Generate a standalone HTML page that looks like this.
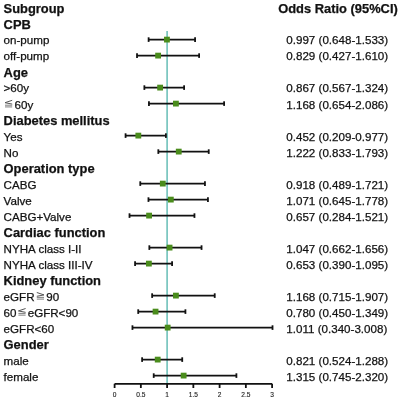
<!DOCTYPE html><html><head><meta charset="utf-8"><style>html,body{margin:0;padding:0;background:#fff;width:400px;height:400px;overflow:hidden}svg{display:block;will-change:transform}text{font-family:"Liberation Sans",sans-serif;stroke:#111;stroke-width:0.25px;paint-order:stroke}</style></head><body>
<svg width="400" height="400" viewBox="0 0 400 400">
<rect width="400" height="400" fill="#fff"/>
<line x1="167.1" y1="31" x2="167.1" y2="383.8" stroke="#66bdb6" stroke-width="1.5"/>
<text x="3.6" y="12.7" font-size="12.9" font-weight="bold" fill="#111">Subgroup</text>
<text x="3.6" y="28.72" font-size="12.9" font-weight="bold" fill="#111">CPB</text>
<text x="3.6" y="44.43" font-size="11.6" fill="#111">on-pump</text>
<line x1="148.62" y1="39.6" x2="195.08" y2="39.6" stroke="#111" stroke-width="1.8"/>
<line x1="148.62" y1="37.3" x2="148.62" y2="41.9" stroke="#111" stroke-width="1.8"/>
<line x1="195.08" y1="37.3" x2="195.08" y2="41.9" stroke="#111" stroke-width="1.8"/>
<rect x="164.04" y="36.7" width="5.8" height="5.8" fill="#4a8c1c"/>
<text x="286.3" y="44.43" font-size="11.6" fill="#111">0.997 (0.648-1.533)</text>
<text x="3.6" y="60.45" font-size="11.6" fill="#111">off-pump</text>
<line x1="137.02" y1="55.6" x2="199.12" y2="55.6" stroke="#111" stroke-width="1.8"/>
<line x1="137.02" y1="53.3" x2="137.02" y2="57.9" stroke="#111" stroke-width="1.8"/>
<line x1="199.12" y1="53.3" x2="199.12" y2="57.9" stroke="#111" stroke-width="1.8"/>
<rect x="155.22" y="52.7" width="5.8" height="5.8" fill="#4a8c1c"/>
<text x="286.3" y="60.45" font-size="11.6" fill="#111">0.829 (0.427-1.610)</text>
<text x="3.6" y="76.77" font-size="12.9" font-weight="bold" fill="#111">Age</text>
<text x="3.6" y="92.49" font-size="11.6" fill="#111">&gt;60y</text>
<line x1="144.37" y1="87.6" x2="184.11" y2="87.6" stroke="#111" stroke-width="1.8"/>
<line x1="144.37" y1="85.3" x2="144.37" y2="89.9" stroke="#111" stroke-width="1.8"/>
<line x1="184.11" y1="85.3" x2="184.11" y2="89.9" stroke="#111" stroke-width="1.8"/>
<rect x="157.22" y="84.7" width="5.8" height="5.8" fill="#4a8c1c"/>
<text x="286.3" y="92.49" font-size="11.6" fill="#111">0.867 (0.567-1.324)</text>
<polyline points="12.20,100.30 5.00,102.70 12.20,104.10" fill="none" stroke="#555" stroke-width="1.0"/><line x1="5.00" y1="105.20" x2="12.20" y2="105.20" stroke="#8a8a8a" stroke-width="1.1"/><line x1="5.00" y1="106.90" x2="12.20" y2="106.90" stroke="#8a8a8a" stroke-width="1.1"/>
<text x="14.6" y="108.5" font-size="11.6" fill="#111">60y</text>
<line x1="148.94" y1="103.6" x2="224.11" y2="103.6" stroke="#111" stroke-width="1.8"/>
<line x1="148.94" y1="101.3" x2="148.94" y2="105.9" stroke="#111" stroke-width="1.8"/>
<line x1="224.11" y1="101.3" x2="224.11" y2="105.9" stroke="#111" stroke-width="1.8"/>
<rect x="173.02" y="100.7" width="5.8" height="5.8" fill="#4a8c1c"/>
<text x="286.3" y="108.5" font-size="11.6" fill="#111">1.168 (0.654-2.086)</text>
<text x="3.6" y="124.82" font-size="12.9" font-weight="bold" fill="#111">Diabetes mellitus</text>
<text x="3.6" y="140.54" font-size="11.6" fill="#111">Yes</text>
<line x1="125.57" y1="135.6" x2="165.89" y2="135.6" stroke="#111" stroke-width="1.8"/>
<line x1="125.57" y1="133.3" x2="125.57" y2="137.9" stroke="#111" stroke-width="1.8"/>
<line x1="165.89" y1="133.3" x2="165.89" y2="137.9" stroke="#111" stroke-width="1.8"/>
<rect x="135.43" y="132.7" width="5.8" height="5.8" fill="#4a8c1c"/>
<text x="286.3" y="140.54" font-size="11.6" fill="#111">0.452 (0.209-0.977)</text>
<text x="3.6" y="156.56" font-size="11.6" fill="#111">No</text>
<line x1="158.33" y1="151.6" x2="208.73" y2="151.6" stroke="#111" stroke-width="1.8"/>
<line x1="158.33" y1="149.3" x2="158.33" y2="153.9" stroke="#111" stroke-width="1.8"/>
<line x1="208.73" y1="149.3" x2="208.73" y2="153.9" stroke="#111" stroke-width="1.8"/>
<rect x="175.85" y="148.7" width="5.8" height="5.8" fill="#4a8c1c"/>
<text x="286.3" y="156.56" font-size="11.6" fill="#111">1.222 (0.833-1.793)</text>
<text x="3.6" y="172.87" font-size="12.9" font-weight="bold" fill="#111">Operation type</text>
<text x="3.6" y="188.59" font-size="11.6" fill="#111">CABG</text>
<line x1="140.27" y1="183.6" x2="204.95" y2="183.6" stroke="#111" stroke-width="1.8"/>
<line x1="140.27" y1="181.3" x2="140.27" y2="185.9" stroke="#111" stroke-width="1.8"/>
<line x1="204.95" y1="181.3" x2="204.95" y2="185.9" stroke="#111" stroke-width="1.8"/>
<rect x="159.89" y="180.7" width="5.8" height="5.8" fill="#4a8c1c"/>
<text x="286.3" y="188.59" font-size="11.6" fill="#111">0.918 (0.489-1.721)</text>
<text x="3.6" y="204.61" font-size="11.6" fill="#111">Valve</text>
<line x1="148.46" y1="199.6" x2="207.94" y2="199.6" stroke="#111" stroke-width="1.8"/>
<line x1="148.46" y1="197.3" x2="148.46" y2="201.9" stroke="#111" stroke-width="1.8"/>
<line x1="207.94" y1="197.3" x2="207.94" y2="201.9" stroke="#111" stroke-width="1.8"/>
<rect x="167.93" y="196.7" width="5.8" height="5.8" fill="#4a8c1c"/>
<text x="286.3" y="204.61" font-size="11.6" fill="#111">1.071 (0.645-1.778)</text>
<text x="3.6" y="220.63" font-size="11.6" fill="#111">CABG+Valve</text>
<line x1="129.51" y1="215.6" x2="194.45" y2="215.6" stroke="#111" stroke-width="1.8"/>
<line x1="129.51" y1="213.3" x2="129.51" y2="217.9" stroke="#111" stroke-width="1.8"/>
<line x1="194.45" y1="213.3" x2="194.45" y2="217.9" stroke="#111" stroke-width="1.8"/>
<rect x="146.19" y="212.7" width="5.8" height="5.8" fill="#4a8c1c"/>
<text x="286.3" y="220.63" font-size="11.6" fill="#111">0.657 (0.284-1.521)</text>
<text x="3.6" y="236.94" font-size="12.9" font-weight="bold" fill="#111">Cardiac function</text>
<text x="3.6" y="252.66" font-size="11.6" fill="#111">NYHA class I-II</text>
<line x1="149.35" y1="247.6" x2="201.54" y2="247.6" stroke="#111" stroke-width="1.8"/>
<line x1="149.35" y1="245.3" x2="149.35" y2="249.9" stroke="#111" stroke-width="1.8"/>
<line x1="201.54" y1="245.3" x2="201.54" y2="249.9" stroke="#111" stroke-width="1.8"/>
<rect x="166.67" y="244.7" width="5.8" height="5.8" fill="#4a8c1c"/>
<text x="286.3" y="252.66" font-size="11.6" fill="#111">1.047 (0.662-1.656)</text>
<text x="3.6" y="268.68" font-size="11.6" fill="#111">NYHA class III-IV</text>
<line x1="135.07" y1="263.6" x2="172.09" y2="263.6" stroke="#111" stroke-width="1.8"/>
<line x1="135.07" y1="261.3" x2="135.07" y2="265.9" stroke="#111" stroke-width="1.8"/>
<line x1="172.09" y1="261.3" x2="172.09" y2="265.9" stroke="#111" stroke-width="1.8"/>
<rect x="145.98" y="260.7" width="5.8" height="5.8" fill="#4a8c1c"/>
<text x="286.3" y="268.68" font-size="11.6" fill="#111">0.653 (0.390-1.095)</text>
<text x="3.6" y="285" font-size="12.9" font-weight="bold" fill="#111">Kidney function</text>
<text x="3.6" y="300.71" font-size="11.6" fill="#111">eGFR</text>
<polyline points="36.80,292.51 44.00,294.91 36.80,296.31" fill="none" stroke="#555" stroke-width="1.0"/><line x1="36.80" y1="297.41" x2="44.00" y2="297.41" stroke="#8a8a8a" stroke-width="1.1"/><line x1="36.80" y1="299.11" x2="44.00" y2="299.11" stroke="#8a8a8a" stroke-width="1.1"/>
<text x="46.3" y="300.71" font-size="11.6" fill="#111">90</text>
<line x1="152.14" y1="295.6" x2="214.72" y2="295.6" stroke="#111" stroke-width="1.8"/>
<line x1="152.14" y1="293.3" x2="152.14" y2="297.9" stroke="#111" stroke-width="1.8"/>
<line x1="214.72" y1="293.3" x2="214.72" y2="297.9" stroke="#111" stroke-width="1.8"/>
<rect x="173.02" y="292.7" width="5.8" height="5.8" fill="#4a8c1c"/>
<text x="286.3" y="300.71" font-size="11.6" fill="#111">1.168 (0.715-1.907)</text>
<text x="3.6" y="316.73" font-size="11.6" fill="#111">60</text>
<polyline points="25.60,308.53 18.40,310.93 25.60,312.33" fill="none" stroke="#555" stroke-width="1.0"/><line x1="18.40" y1="313.43" x2="25.60" y2="313.43" stroke="#8a8a8a" stroke-width="1.1"/><line x1="18.40" y1="315.13" x2="25.60" y2="315.13" stroke="#8a8a8a" stroke-width="1.1"/>
<text x="27.7" y="316.73" font-size="11.6" fill="#111">eGFR&lt;90</text>
<line x1="138.22" y1="311.6" x2="185.42" y2="311.6" stroke="#111" stroke-width="1.8"/>
<line x1="138.22" y1="309.3" x2="138.22" y2="313.9" stroke="#111" stroke-width="1.8"/>
<line x1="185.42" y1="309.3" x2="185.42" y2="313.9" stroke="#111" stroke-width="1.8"/>
<rect x="152.65" y="308.7" width="5.8" height="5.8" fill="#4a8c1c"/>
<text x="286.3" y="316.73" font-size="11.6" fill="#111">0.780 (0.450-1.349)</text>
<text x="3.6" y="332.75" font-size="11.6" fill="#111">eGFR&lt;60</text>
<line x1="132.45" y1="327.6" x2="272.52" y2="327.6" stroke="#111" stroke-width="1.8"/>
<line x1="132.45" y1="325.3" x2="132.45" y2="329.9" stroke="#111" stroke-width="1.8"/>
<line x1="272.52" y1="325.3" x2="272.52" y2="329.9" stroke="#111" stroke-width="1.8"/>
<rect x="164.78" y="324.7" width="5.8" height="5.8" fill="#4a8c1c"/>
<text x="286.3" y="332.75" font-size="11.6" fill="#111">1.011 (0.340-3.008)</text>
<text x="3.6" y="349.07" font-size="12.9" font-weight="bold" fill="#111">Gender</text>
<text x="3.6" y="364.78" font-size="11.6" fill="#111">male</text>
<line x1="142.11" y1="359.6" x2="182.22" y2="359.6" stroke="#111" stroke-width="1.8"/>
<line x1="142.11" y1="357.3" x2="142.11" y2="361.9" stroke="#111" stroke-width="1.8"/>
<line x1="182.22" y1="357.3" x2="182.22" y2="361.9" stroke="#111" stroke-width="1.8"/>
<rect x="154.8" y="356.7" width="5.8" height="5.8" fill="#4a8c1c"/>
<text x="286.3" y="364.78" font-size="11.6" fill="#111">0.821 (0.524-1.288)</text>
<text x="3.6" y="380.8" font-size="11.6" fill="#111">female</text>
<line x1="153.71" y1="375.6" x2="236.4" y2="375.6" stroke="#111" stroke-width="1.8"/>
<line x1="153.71" y1="373.3" x2="153.71" y2="377.9" stroke="#111" stroke-width="1.8"/>
<line x1="236.4" y1="373.3" x2="236.4" y2="377.9" stroke="#111" stroke-width="1.8"/>
<rect x="180.74" y="372.7" width="5.8" height="5.8" fill="#4a8c1c"/>
<text x="286.3" y="380.8" font-size="11.6" fill="#111">1.315 (0.745-2.320)</text>
<text x="278.2" y="12.7" font-size="12.9" font-weight="bold" fill="#111">Odds Ratio (95%CI)</text>
<line x1="114.6" y1="383.8" x2="272.1" y2="383.8" stroke="#111" stroke-width="1.8"/>
<line x1="114.6" y1="383.8" x2="114.6" y2="388" stroke="#111" stroke-width="1.8"/>
<text x="114.6" y="397.2" font-size="6.6" text-anchor="middle" fill="#222" style="stroke-width:0.12px">0</text>
<line x1="140.85" y1="383.8" x2="140.85" y2="388" stroke="#111" stroke-width="1.8"/>
<text x="140.85" y="397.2" font-size="6.6" text-anchor="middle" fill="#222" style="stroke-width:0.12px">0.5</text>
<line x1="167.1" y1="383.8" x2="167.1" y2="388" stroke="#111" stroke-width="1.8"/>
<text x="167.1" y="397.2" font-size="6.6" text-anchor="middle" fill="#222" style="stroke-width:0.12px">1</text>
<line x1="193.35" y1="383.8" x2="193.35" y2="388" stroke="#111" stroke-width="1.8"/>
<text x="193.35" y="397.2" font-size="6.6" text-anchor="middle" fill="#222" style="stroke-width:0.12px">1.5</text>
<line x1="219.6" y1="383.8" x2="219.6" y2="388" stroke="#111" stroke-width="1.8"/>
<text x="219.6" y="397.2" font-size="6.6" text-anchor="middle" fill="#222" style="stroke-width:0.12px">2</text>
<line x1="245.85" y1="383.8" x2="245.85" y2="388" stroke="#111" stroke-width="1.8"/>
<text x="245.85" y="397.2" font-size="6.6" text-anchor="middle" fill="#222" style="stroke-width:0.12px">2.5</text>
<line x1="272.1" y1="383.8" x2="272.1" y2="388" stroke="#111" stroke-width="1.8"/>
<text x="272.1" y="397.2" font-size="6.6" text-anchor="middle" fill="#222" style="stroke-width:0.12px">3</text>
</svg></body></html>
